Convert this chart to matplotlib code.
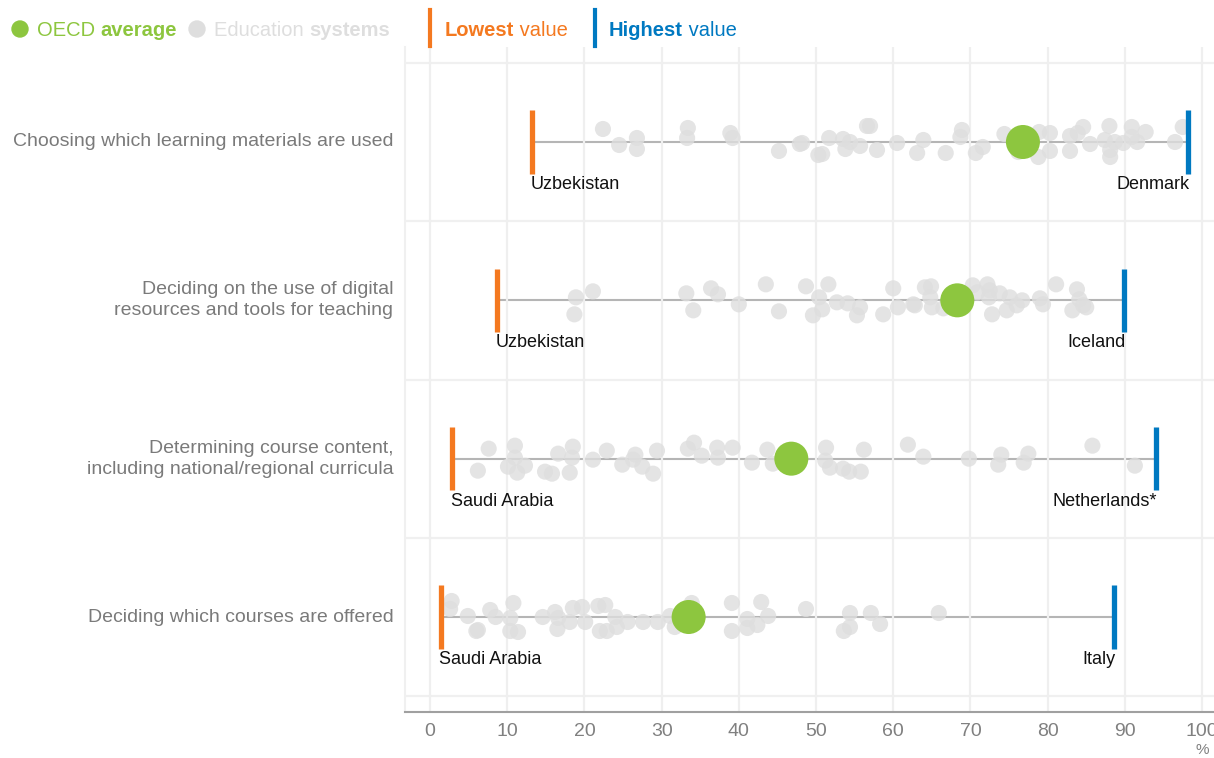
import numpy as np
import matplotlib.pyplot as plt
from matplotlib.patches import Ellipse

# ---- data ----
categories = [
    "Choosing which learning materials are used",
    "Deciding on the use of digital\nresources and tools for teaching",
    "Determining course content,\nincluding national/regional curricula",
    "Deciding which courses are offered",
]
oecd_avg = [76.8, 68.3, 46.8, 33.5]
lowest_vals = [13.2, 8.7, 2.9, 1.4]
lowest_names = ["Uzbekistan", "Uzbekistan", "Saudi Arabia", "Saudi Arabia"]
highest_vals = [98.2, 89.9, 94.0, 88.6]
highest_names = ["Denmark", "Iceland", "Netherlands*", "Italy"]

# education systems (value in %, vertical jitter in px)
materials_vals = [22.4, 24.5, 26.8, 26.8, 33.4, 33.3, 38.9, 39.2, 45.2, 47.9, 50.3, 48.2,
                  50.8, 51.7, 53.5, 53.8, 54.4, 55.7, 56.6, 57.0, 57.9, 60.5, 63.1, 63.9,
                  66.8, 68.9, 68.7, 70.7, 71.6, 74.4, 76.2, 78.9, 78.8, 80.3, 80.3, 82.9,
                  82.9, 83.9, 84.6, 85.5, 87.4, 88.0, 88.1, 88.1, 88.7, 89.8, 90.9, 90.9,
                  91.6, 92.7, 96.5, 97.5]
materials_jit = [-13, 3, -4, 7, -14, -4, -9, -4, 9, 2, 13, 1,
                 12, -4, -3, 7, 0, 4, -16, -16, 8, 1, 11, -2,
                 11, -12, -5, 11, 5, -8, 10, -10, 15, -9, 9, -6,
                 9, -9, -15, 2, -2, -16, 8, 15, 0, 1, -15, -5,
                 0, -10, 0, -15]

digital_vals = [18.9, 21.1, 18.7, 33.2, 34.1, 36.4, 37.3, 40.0, 43.5, 45.2, 48.7, 49.6,
                50.4, 50.8, 51.6, 52.7, 54.1, 55.7, 55.3, 58.7, 60.0, 60.6, 62.6, 62.8,
                64.1, 64.9, 64.8, 65.0, 66.5, 70.3, 70.9, 72.2, 72.5, 72.4, 72.8, 73.8,
                74.7, 75.1, 76.0, 76.7, 79.0, 79.4, 81.1, 83.8, 84.1, 83.2, 84.6, 85.0]
digital_jit = [-3, -9, 14, -7, 10, -12, -6, 4, -16, 11, -14, 15,
               -3, 9, -16, 2, 3, 7, 15, 14, -12, 7, 4, 5,
               -13, -14, -3, 7, 8, -15, -8, -16, -10, -3, 14, -7,
               10, -3, 5, 0, -2, 4, -16, -11, -1, 10, 5, 7]

content_vals = [7.6, 6.2, 11.0, 11.0, 10.1, 11.3, 12.3, 14.9, 15.8, 16.6, 18.5, 18.4,
                18.1, 21.1, 22.9, 24.9, 26.6, 26.3, 27.5, 28.9, 29.4, 33.4, 34.2, 35.2,
                37.2, 37.3, 39.2, 41.7, 43.7, 44.4, 51.3, 51.2, 51.8, 53.5, 54.3, 55.8,
                56.2, 61.9, 63.9, 69.8, 74.0, 73.6, 77.5, 76.9, 85.8, 91.3]
content_jit = [-10, 12, -13, -1, 8, 14, 7, 13, 15, -5, -12, -1,
               14, 1, -8, 6, -4, 1, 8, 15, -8, -10, -16, -3,
               -11, -1, -11, 4, -9, 5, -11, 2, 9, 10, 13, 13,
               -9, -14, -2, 0, -4, 6, -5, 4, -13, 7]

courses_vals = [2.8, 2.6, 4.9, 6.0, 6.2, 7.8, 8.5, 10.8, 10.4, 10.4, 11.4, 14.6,
                16.2, 16.6, 16.5, 18.1, 18.5, 19.7, 20.1, 21.8, 22.7, 22.0, 22.9, 24.0,
                24.2, 25.6, 27.6, 29.5, 31.1, 31.7, 33.9, 39.1, 39.1, 41.1, 41.1, 42.4,
                42.9, 43.8, 48.7, 54.4, 54.4, 53.6, 57.1, 58.3, 65.9]
courses_jit = [-16, -8, -1, 14, 13, -7, 0, -14, 1, 14, 15, 0,
               -5, 1, 12, 5, -9, -10, 5, -11, -12, 14, 14, 0,
               10, 5, 5, 5, -1, 10, -14, -14, 14, 2, 11, 8,
               -15, -1, -8, -4, 10, 14, -4, 7, -4]

system_vals = [materials_vals, digital_vals, content_vals, courses_vals]
system_jit = [materials_jit, digital_jit, content_jit, courses_jit]

# ---- style ----
GREEN = "#8dc63f"
GREY_DOT = "#dedede"
ORANGE = "#f47920"
BLUE = "#0079c1"
LABEL_GREY = "#7a7a7a"
FONT = ["Liberation Sans", "DejaVu Sans"]
ROW_PX = 158.3

plt.rcParams["font.family"] = FONT

W, H = 1214, 758
fig = plt.figure(figsize=(W / 100, H / 100), dpi=100)
ax = fig.add_axes([405 / W, 1 - 712 / H, (W - 405) / W, (712 - 47) / H])
ax.set_xlim(-3.24, 101.55)
ax.set_ylim(3.6, -0.6)

for sp in ["top", "right"]:
    ax.spines[sp].set_visible(False)
ax.spines["left"].set_color("#f0f0f0")
ax.spines["left"].set_linewidth(1.5)
ax.spines["bottom"].set_color("#a0a0a0")
ax.spines["bottom"].set_linewidth(1.5)

ax.set_xticks(np.arange(0, 101, 10))
ax.set_yticks([])
ax.tick_params(axis="x", length=0, pad=8, labelcolor="#808080", labelsize=14)
ax.grid(axis="x", color="#efefef", lw=1.6, zorder=0)
for yy in np.arange(-0.5, 3.6, 1.0):
    ax.axhline(yy, color="#f0f0f0", lw=1.6, zorder=0)
ax.annotate("%", xy=(100, 3.6), xytext=(0, -27), textcoords="offset points",
            ha="center", va="center", color="#808080", fontsize=11)

for i, cat in enumerate(categories):
    ax.plot([lowest_vals[i], highest_vals[i]], [i, i], color="#b5b5b5", lw=1.5, zorder=1)
    jit = np.array(system_jit[i]) / ROW_PX
    ax.scatter(system_vals[i], i + jit, s=135, color=GREY_DOT, alpha=0.8,
               edgecolors="none", zorder=2)
    ax.scatter([oecd_avg[i]], [i], s=600, color=GREEN, edgecolors="none", zorder=4)
    ax.plot([lowest_vals[i]] * 2, [i - 0.2, i + 0.2], color=ORANGE, lw=3.8,
            solid_capstyle="butt", zorder=5)
    ax.plot([highest_vals[i]] * 2, [i - 0.2, i + 0.2], color=BLUE, lw=3.8,
            solid_capstyle="butt", zorder=5)
    ax.text(lowest_vals[i] - 0.2, i + 0.215, lowest_names[i], ha="left", va="top",
            fontsize=13, color="#111111")
    ax.text(highest_vals[i] + 0.2, i + 0.215, highest_names[i], ha="right", va="top",
            fontsize=13, color="#111111")
    ax.text(-3.24 - 1.5, i, cat, ha="right", va="center",
            fontsize=14, color=LABEL_GREY, linespacing=1.3, clip_on=False)

# ---- legend ----
fig.canvas.draw()
renderer = fig.canvas.get_renderer()


def legend_text(x_px, pieces, color):
    x = x_px
    for txt, weight in pieces:
        t = fig.text(x / W, 1 - 30 / H, txt, color=color, fontweight=weight,
                     fontsize=14.5, ha="left", va="center")
        x += t.get_window_extent(renderer).width


fig.add_artist(Ellipse((20 / W, 1 - 29 / H), 16 / W, 16 / H,
                       transform=fig.transFigure, color=GREEN))
fig.add_artist(Ellipse((197 / W, 1 - 29 / H), 16 / W, 16 / H,
                       transform=fig.transFigure, color=GREY_DOT))
fig.add_artist(plt.Line2D([430 / W, 430 / W], [1 - 10 / H, 1 - 46 / H], color=ORANGE,
                          lw=3, transform=fig.transFigure))
fig.add_artist(plt.Line2D([595 / W, 595 / W], [1 - 10 / H, 1 - 46 / H], color=BLUE,
                          lw=3, transform=fig.transFigure))
legend_text(37, [("OECD ", "normal"), ("average", "bold")], GREEN)
legend_text(214, [("Education ", "normal"), ("systems", "bold")], GREY_DOT)
legend_text(445, [("Lowest", "bold"), (" value", "normal")], ORANGE)
legend_text(609, [("Highest", "bold"), (" value", "normal")], BLUE)

fig.savefig("out.png", dpi=100)
